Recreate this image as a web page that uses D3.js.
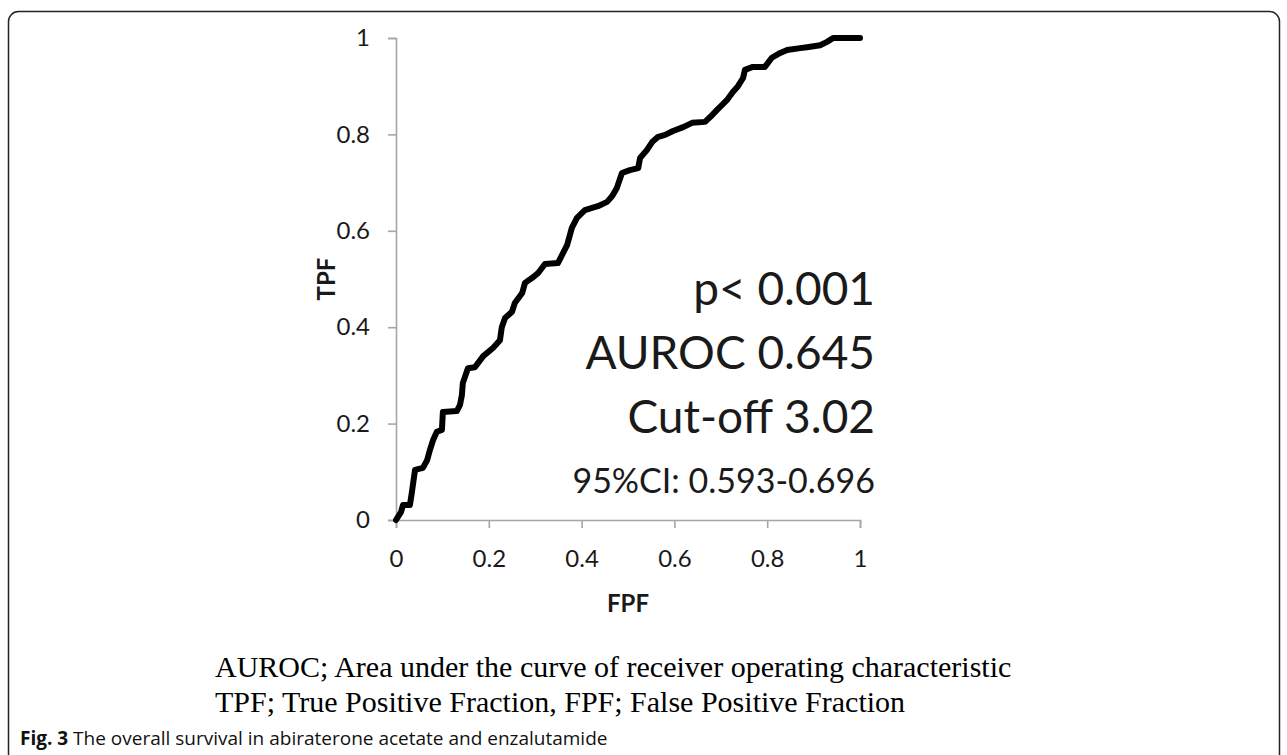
<!DOCTYPE html>
<html>
<head>
<meta charset="utf-8">
<script src="https://cdn.jsdelivr.net/npm/d3@7"></script>
<style>
  body { margin: 0; background: #fff; }
  svg { display: block; }
</style>
</head>
<body>
<div id="chart"></div>
<script>
// ROC curve points (FPF, TPF)
var fpf = [0, .011, .015, .030, .034, .041, .058, .067, .073, .080, .088, .099, .101, .131, .138, .142, .144, .155, .170, .188,
  .209, .224, .228, .235, .250, .256, .272, .278, .293, .306, .321, .349, .358, .369, .379, .390, .407, .435, .455, .466,
  .476, .487, .504, .522, .526, .541, .552, .565, .580, .597, .619, .638, .666, .677, .692, .713, .726, .737, .748, .752,
  .769, .795, .810, .828, .843, .871, .886, .914, .929, .942, 1];
var tpf = [0, .017, .031, .031, .056, .104, .108, .124, .145, .166, .183, .187, .224, .226, .239, .259, .284, .315, .317, .340,
  .357, .373, .400, .419, .432, .450, .471, .492, .502, .512, .531, .533, .550, .571, .606, .627, .643, .651, .660, .672,
  .689, .720, .726, .730, .751, .768, .784, .795, .799, .807, .815, .824, .826, .836, .851, .871, .888, .900, .917, .934,
  .940, .940, .959, .969, .975, .979, .981, .985, .992, 1, 1];

var ticks = [0, 0.2, 0.4, 0.6, 0.8, 1];
var statLines = ["p< 0.001", "AUROC 0.645", "Cut-off 3.02"];
var ciLine = "95%CI: 0.593-0.696";
var captionLines = ["AUROC; Area under the curve of receiver operating characteristic",
  "TPF; True Positive Fraction, FPF; False Positive Fraction"];

var W = 1287, H = 755;
var svg = d3.select("#chart").append("svg")
  .attr("width", W)
  .attr("height", H);

// outer rounded frame
svg.append("rect")
  .attr("x", 8.5).attr("y", 11.5)
  .attr("width", 1271).attr("height", 760)
  .attr("rx", 10)
  .attr("fill", "none")
  .attr("stroke", "#222")
  .attr("stroke-width", 1.5);

var x = d3.scaleLinear().domain([0, 1]).range([396, 860]);
var y = d3.scaleLinear().domain([0, 1]).range([520, 38]);

var font = "Lato, 'Open Sans', sans-serif";

//y axis
var yAxis = svg.append("g")
  .attr("transform", "translate(" + x(0) + ",0)")
  .call(d3.axisLeft(y).tickValues(ticks).tickFormat(d3.format("")).tickSize(8).tickPadding(18));
//x axis
var xAxis = svg.append("g")
  .attr("transform", "translate(0," + y(0) + ")")
  .call(d3.axisBottom(x).tickValues(ticks).tickFormat(d3.format("")).tickSize(8).tickPadding(22));

[yAxis, xAxis].forEach(function(a) {
  a.select(".domain").attr("stroke", "#a6a6a6").attr("stroke-width", 1.6);
  a.selectAll(".tick line").attr("stroke", "#a6a6a6").attr("stroke-width", 1.6);
  a.selectAll(".tick text")
    .attr("fill", "#1a1a1a")
    .style("font-family", font)
    .style("font-size", "24px");
});

// axis titles
svg.append("text")
  .attr("transform", "translate(335," + y(0.5) + ") rotate(-90)")
  .attr("text-anchor", "middle")
  .style("font-family", font)
  .style("font-weight", "bold")
  .style("font-size", "24px")
  .attr("fill", "#1a1a1a")
  .text("TPF");

svg.append("text")
  .attr("x", x(0.5)).attr("y", 612)
  .attr("text-anchor", "middle")
  .style("font-family", font)
  .style("font-weight", "bold")
  .style("font-size", "24px")
  .attr("fill", "#1a1a1a")
  .text("FPF");

// the curve
var pts = fpf.map(function(d, i) { return [d, tpf[i]]; });
svg.append("path")
  .datum(pts)
  .attr("fill", "none")
  .attr("stroke", "#000")
  .attr("stroke-width", 6)
  .attr("stroke-linejoin", "round")
  .attr("stroke-linecap", "round")
  .attr("d", d3.line().x(function(d) { return x(d[0]); }).y(function(d) { return y(d[1]); }));

// stats
svg.selectAll(".stat")
  .data(statLines)
  .enter().append("text")
  .attr("class", "stat")
  .attr("x", 875)
  .attr("y", function(d, i) { return 305 + i * 64; })
  .attr("text-anchor", "end")
  .style("font-family", font)
  .style("font-size", "46px")
  .attr("fill", "#1a1a1a")
  .text(function(d) { return d; });

svg.append("text")
  .attr("x", 875).attr("y", 493)
  .attr("text-anchor", "end")
  .style("font-family", font)
  .style("font-size", "34px")
  .attr("fill", "#1a1a1a")
  .text(ciLine);

// caption below the chart
svg.selectAll(".cap")
  .data(captionLines)
  .enter().append("text")
  .attr("class", "cap")
  .attr("x", 215)
  .attr("y", function(d, i) { return 677 + i * 35; })
  .style("font-family", "'Liberation Serif', 'Times New Roman', serif")
  .style("font-size", "30px")
  .attr("fill", "#000")
  .text(function(d) { return d; });

var fig = svg.append("text")
  .attr("x", 20).attr("y", 745)
  .style("font-family", "'Open Sans', sans-serif")
  .style("font-size", "19px")
  .attr("fill", "#111");
fig.append("tspan").style("font-weight", "bold").text("Fig. 3");
fig.append("tspan").text(" The overall survival in abiraterone acetate and enzalutamide");
</script>
</body>
</html>
